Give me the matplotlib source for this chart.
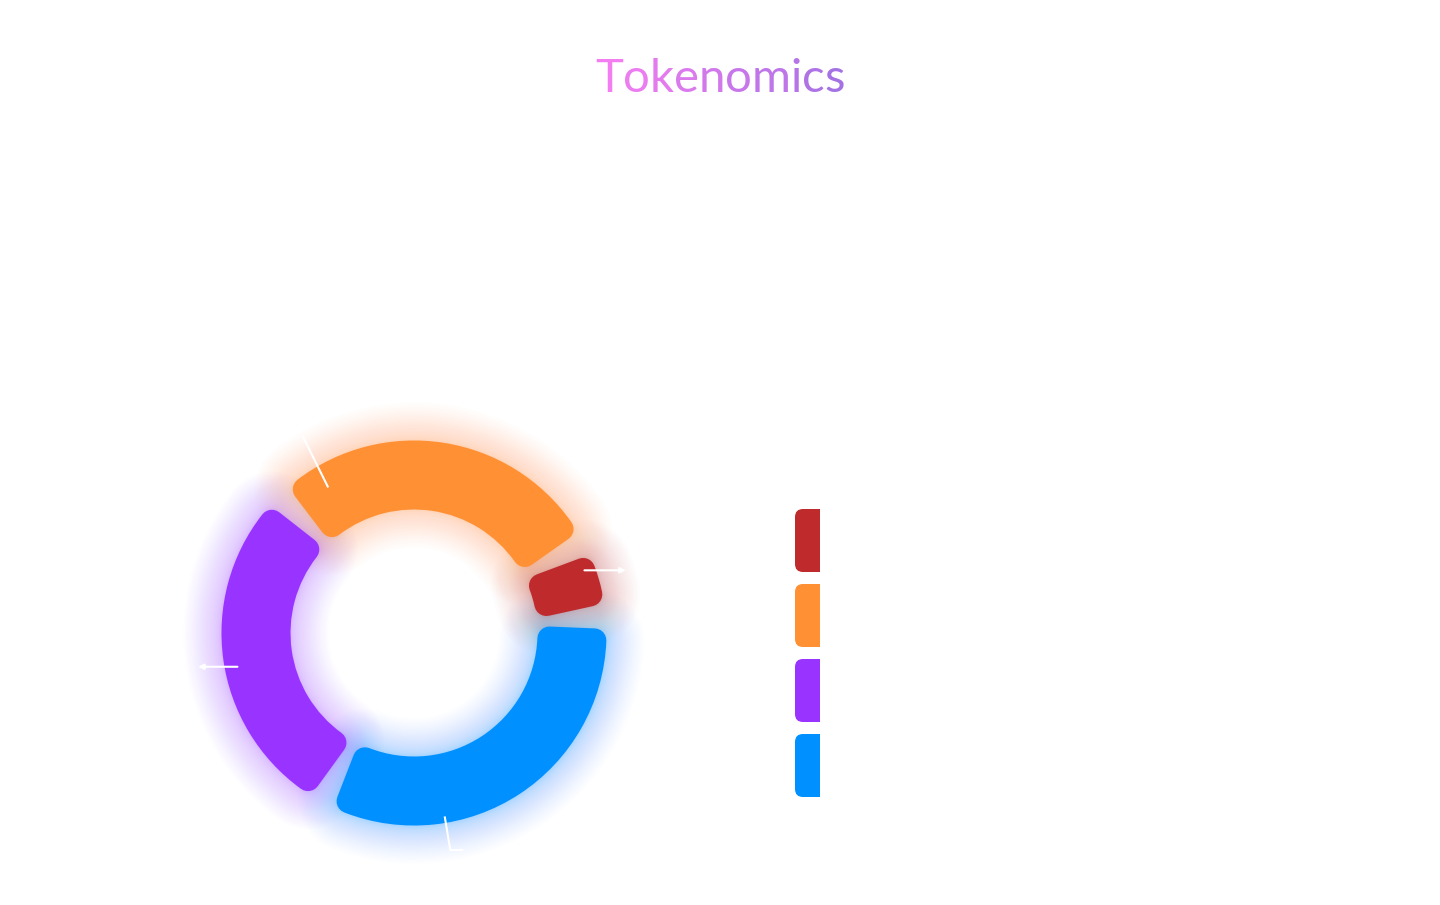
import numpy as np
import matplotlib
matplotlib.use("Agg")
import matplotlib.pyplot as plt
import matplotlib.colors as mcolors
from matplotlib.patches import Wedge, FancyBboxPatch, Rectangle

# data
categories = ["Category A", "Category B", "Category C", "Category D"]
values = [5, 30, 30, 35]
colors = ["#bf2a2d", "#ff9034", "#9933ff", "#0090ff"]
title = "Tokenomics"
title_colors = ["#f47ef1", "#a572e4"]

# layout (pixels, y up)
W, H = 1440, 905
cx, cy = 414, 905 - 633
R, r = 192.5, 123.5
corner = 12
pad = 6
start = 8

fig = plt.figure(figsize=(W / 100, H / 100), dpi=100)
ax = fig.add_axes([0, 0, 1, 1])

wedges, _ = ax.pie(values, colors=colors, radius=R, center=(cx, cy), startangle=start,
                   counterclock=True, frame=True, wedgeprops=dict(width=R - r))
ax.set_xlim(0, W)
ax.set_ylim(0, H)
ax.set_aspect("equal")
ax.axis("off")

px2pt = 72 / 100
span = 360 - len(values) * pad
rmid = (R + r) / 2
delta = np.degrees(corner / rmid)
n_glow, glow_ext = 32, 38
for i, (w, col) in enumerate(zip(wedges, colors)):
    t1 = start + (w.theta1 - start) * span / 360 + i * pad
    t2 = start + (w.theta2 - start) * span / 360 + i * pad
    w.set_theta1(t1 + delta)
    w.set_theta2(t2 - delta)
    w.set_radius(R - corner)
    w.set_width(R - r - 2 * corner)
    w.set_edgecolor(col)
    w.set_linewidth(2 * corner * px2pt)
    w.set_joinstyle("round")
    w.set_zorder(3)
    # soft glow, denser near the segment
    for k in range(1, n_glow + 1):
        ext = glow_ext * (k / n_glow) ** 2
        g = Wedge((cx, cy), R - corner, t1 + delta, t2 - delta, width=R - r - 2 * corner,
                  facecolor="none", edgecolor=col, alpha=0.011, joinstyle="round",
                  linewidth=(2 * corner + 2 * ext) * px2pt, zorder=1)
        ax.add_patch(g)

# label guide lines (white)
lw = 1.5
def pt(ang, rad):
    a = np.radians(ang)
    return cx + rad * np.cos(a), cy + rad * np.sin(a)

x0, y0 = pt(20.5, 179)
ax.annotate("", xy=(x0 + 47, y0), xytext=(x0, y0), zorder=5,
            arrowprops=dict(arrowstyle="-|>", color="white", lw=lw, mutation_scale=8))
x0, y0 = pt(191, 177)
ax.annotate("", xy=(x0 - 45, y0), xytext=(x0, y0), zorder=5,
            arrowprops=dict(arrowstyle="-|>", color="white", lw=lw, mutation_scale=8))
xa, ya = pt(120.5, 170)
xb, yb = pt(119.5, 225)
ax.plot([xa, xb], [ya, yb], color="white", lw=lw, zorder=5)
xa, ya = pt(279.5, 187)
xb, yb = pt(279.5, 220)
ax.plot([xa, xb, xb + 12], [ya, yb, yb], color="white", lw=lw, zorder=5)

# legend swatches
lx, ltop, lwid, lh, lstep = 795, 905 - 509, 25, 63, 75
clip = Rectangle((lx, ltop - 3 * lstep - lh), lwid, 3 * lstep + lh, transform=ax.transData)
for i, col in enumerate(colors):
    p = FancyBboxPatch((lx, ltop - i * lstep - lh), lwid + 20, lh,
                       boxstyle="round,pad=0,rounding_size=8", facecolor=col,
                       edgecolor="none", zorder=3)
    ax.add_patch(p)
    p.set_clip_path(clip)
    ax.text(lx + lwid + 15, ltop - i * lstep - lh / 2, categories[i], color="white",
            fontsize=12, va="center", zorder=3)

# gradient title, letter by letter
fig.canvas.draw()
renderer = fig.canvas.get_renderer()
tfont = dict(fontsize=34, family="Lato", fontweight="normal")
full = ax.text(0, 0, title, **tfont)
total = full.get_window_extent(renderer).width
full.remove()
cmap = mcolors.LinearSegmentedColormap.from_list("t", title_colors)
xstart = W / 2 - total / 2
for i, ch in enumerate(title):
    if i == 0:
        off = 0
    else:
        tmp = ax.text(0, 0, title[:i], **tfont)
        off = tmp.get_window_extent(renderer).width
        tmp.remove()
    ax.text(xstart + off, 905 - 92, ch, color=cmap(i / (len(title) - 1)),
            va="baseline", ha="left", **tfont)

fig.savefig("out.png", dpi=100, facecolor="white")
